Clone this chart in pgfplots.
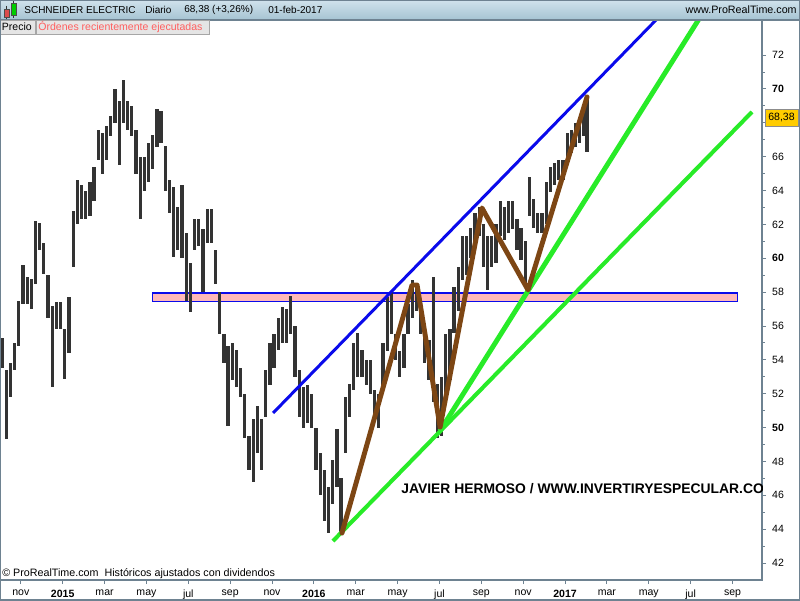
\documentclass[border=0pt]{standalone}
\usepackage{pgfplots}
\pgfplotsset{compat=1.18}
\usepackage{pgfplotstable}
\usepackage{fontspec}
\setmainfont{Liberation Sans}

\definecolor{bar}{RGB}{51,51,51}
\definecolor{frame}{RGB}{110,130,145}
\definecolor{blueL}{RGB}{10,10,235}
\definecolor{greenL}{RGB}{40,235,40}
\definecolor{brownL}{RGB}{125,70,20}
\definecolor{pinkF}{RGB}{255,185,185}
\definecolor{hdrtop}{RGB}{208,226,236}
\definecolor{hdrbot}{RGB}{165,195,210}
\definecolor{tabred}{RGB}{255,95,95}
\definecolor{gold}{RGB}{255,204,0}

% weekly-ish high/low, x = months since jan 2015
\pgfplotstableread{
m lo hi
-2.9 53.5 55.3
-2.7 49.3 53.4
-2.5 51.8 53.8
-2.3 53.4 55.0
-2.1 54.8 57.5
-1.9 57.3 59.6
-1.7 57.3 58.9
-1.5 57.0 58.8
-1.3 58.5 62.2
-1.1 60.5 62.1
-0.9 59.1 60.9
-0.7 56.5 59.0
-0.5 52.4 57.2
-0.3 55.8 57.4
-0.1 55.8 57.4
0.1 52.9 55.8
0.3 54.4 57.7
0.5 59.5 62.8
0.7 62.0 64.6
0.9 62.3 64.3
1.1 62.3 64.0
1.3 62.5 64.5
1.5 63.4 65.4
1.7 65.8 67.6
1.9 65.0 67.4
2.1 65.8 67.8
2.3 67.2 68.4
2.5 68.0 70.0
2.7 65.5 69.3
2.9 68.0 70.5
3.1 67.6 69.3
3.3 67.2 69.0
3.5 65.0 67.6
3.7 62.3 66.0
3.9 64.0 66.0
4.1 64.5 66.8
4.3 65.3 67.3
4.5 66.6 68.8
4.7 66.8 68.7
4.9 64.0 66.6
5.1 62.7 64.6
5.3 60.1 64.2
5.5 60.5 63.0
5.7 60.0 64.3
5.9 57.5 61.5
6.1 56.8 59.7
6.3 60.5 62.3
6.5 60.7 62.3
6.7 58.0 61.7
6.9 60.9 62.9
7.1 60.9 62.9
7.3 58.5 60.5
7.5 55.5 58.0
7.7 53.8 55.5
7.9 50.1 54.8
8.1 52.8 55.0
8.3 52.4 54.6
8.5 51.8 53.5
8.7 49.4 52.0
8.9 47.5 49.5
9.1 46.8 50.5
9.3 48.5 51.3
9.5 47.5 50.5
9.7 50.6 53.4
9.9 52.5 55.0
10.1 53.5 55.5
10.3 54.6 56.5
10.5 55.0 57.1
10.7 55.0 57.0
10.9 55.5 57.8
11.1 53.0 56.0
11.3 50.6 53.4
11.5 50.0 52.4
11.7 50.3 52.5
11.9 50.0 52.0
12.1 47.5 50.0
12.3 46.0 48.5
12.5 44.5 47.5
12.7 43.8 46.5
12.9 45.5 48.1
13.1 46.5 49.9
13.3 43.8 47.0
13.5 48.5 51.8
13.7 50.6 52.6
13.9 52.2 55.0
14.1 53.0 55.6
14.3 53.0 54.6
14.5 52.5 54.0
14.7 52.0 54.0
14.9 50.5 52.2
15.1 50.0 52.0
15.3 52.2 55.0
15.5 54.5 57.7
15.7 55.5 58.0
15.9 54.0 55.5
16.1 53.0 54.5
16.3 53.5 55.5
16.5 55.5 57.3
16.7 56.5 58.7
16.9 56.9 58.5
17.1 55.5 57.1
17.3 53.8 56.0
17.5 52.8 55.2
17.7 51.5 58.9
17.9 49.4 52.6
18.1 49.5 53.0
18.3 51.5 55.5
18.5 52.8 55.8
18.7 55.6 58.3
18.9 56.9 59.5
19.1 58.7 61.3
19.3 59.0 61.3
19.5 60.0 61.8
19.7 60.7 62.7
19.9 61.3 63.0
20.1 59.5 62.0
20.3 58.1 61.3
20.5 59.5 61.3
20.7 59.7 62.0
20.9 61.3 63.4
21.1 61.1 63.0
21.3 61.5 63.4
21.5 61.7 63.4
21.7 60.5 62.3
21.9 59.9 61.8
22.1 58.3 61.0
22.3 62.5 64.8
22.5 61.8 63.5
22.7 61.5 62.7
22.9 61.5 62.7
23.1 62.0 64.5
23.3 63.9 65.4
23.5 64.3 65.6
23.7 64.6 65.8
23.9 64.6 65.8
24.1 65.8 67.4
24.3 66.2 67.6
24.5 66.6 68.0
24.7 66.8 67.8
24.9 67.2 68.9
25.05 66.3 69.5
}\prices

\begin{document}
\begin{tikzpicture}
\begin{axis}[
    name=ch, at={(0,0)}, anchor=south west,
    width=15.24cm, height=11.2cm, scale only axis,
    xmin=-2.996, xmax=33.41, ymin=41.0, ymax=74.07,
    axis line style={draw=frame, line width=0.6pt},
    xtick={-2,0,...,32},
    xticklabels={nov,\textbf{2015},mar,may,jul,sep,nov,\textbf{2016},mar,may,jul,sep,nov,\textbf{2017},mar,may,jul,sep},
    ytick={42,44,...,72},
    yticklabels={42,44,46,48,\textbf{50},52,54,56,58,\textbf{60},62,64,66,{},\textbf{70},72},
    minor y tick num=1,
    xtick pos=bottom, ytick pos=right, yticklabel pos=right,
    tick align=outside, major tick length=0.08cm, minor tick length=0.05cm,
    tick style={draw=frame, line width=0.5pt},
    ticklabel style={font=\fontsize{6}{7}\selectfont, text=black},
    /pgf/number format/assume math mode=true,
    clip=true,
  ]
% support zone
\addplot[fill=pinkF, draw=blueL, line width=0.6pt] coordinates {(4.27,57.42) (32.22,57.42) (32.22,57.95) (4.27,57.95) (4.27,57.42)};
% price bars (high-low)
\addplot[draw=none, mark=none,
    error bars/.cd, y dir=both, y explicit, error mark=none,
    error bar style={draw=bar, line width=1.85pt}]
    table[x=m, y expr=(\thisrow{lo}+\thisrow{hi})/2, y error expr=(\thisrow{hi}-\thisrow{lo})/2] {\prices};
% trend lines
\addplot[blueL, line width=1.7pt] coordinates {(10.05,50.86) (28.44,74.19)};
\addplot[greenL, line width=2.3pt] coordinates {(12.91,43.30) (32.93,68.64)};
\addplot[greenL, line width=2.8pt] coordinates {(18.02,49.80) (30.43,74.19)};
\addplot[brownL, line width=2.8pt, line join=round, line cap=round] coordinates {(13.34,43.77) (16.69,58.42) (16.93,58.42) (18.03,50.03) (20.03,62.97) (22.23,58.13) (25.05,69.53)};
\begin{scope}
\clip (rel axis cs:0,0) rectangle (rel axis cs:1,1);
\node[anchor=west, font=\bfseries\fontsize{7.9}{9}\selectfont, inner sep=0pt] at (axis cs:16.16,46.37) {JAVIER HERMOSO / WWW.INVERTIRYESPECULAR.CO};
\end{scope}
\node[anchor=west, font=\fontsize{6.1}{7}\selectfont, inner sep=0pt] at (axis cs:-2.9,41.35) {© ProRealTime.com\ \ Históricos ajustados con dividendos};
\end{axis}
% header bar
\fill[top color=hdrtop, bottom color=hdrbot] (0,11.2) rectangle (16,11.6);
\draw[frame, line width=0.6pt] (0,11.2) -- (16,11.2);
\draw[black!80, line width=0.4pt] (0.13,11.48) -- (0.13,11.22);
\filldraw[fill=red!80!black!70, draw=black!70, line width=0.3pt] (0.08,11.42) rectangle (0.18,11.26);
\draw[black!80, line width=0.4pt] (0.27,11.58) -- (0.27,11.24);
\filldraw[fill=green!80!black, draw=black!70, line width=0.3pt] (0.22,11.54) rectangle (0.32,11.30);
\begin{scope}[every node/.style={anchor=west, inner sep=0pt, font=\fontsize{5.7}{7}\selectfont}]
\node at (0.48,11.40) {SCHNEIDER ELECTRIC};
\node at (2.90,11.40) {Diario};
\node at (3.68,11.40) {68,38 (+3,26\%)};
\node at (5.36,11.40) {01-feb-2017};
\end{scope}
\node[anchor=east, inner sep=0pt, font=\fontsize{6.1}{7}\selectfont] at (15.94,11.40) {www.ProRealTime.com};
% tabs
\filldraw[fill=black!10, draw=black!35, line width=0.4pt] (0,11.2) rectangle (0.70,10.92);
\node[anchor=west, inner sep=0pt, font=\fontsize{6}{7}\selectfont] at (0.03,11.06) {Precio};
\filldraw[fill=black!10, draw=black!35, line width=0.4pt] (0.72,11.2) rectangle (4.18,10.92);
\node[anchor=west, inner sep=0pt, font=\fontsize{6}{7}\selectfont, text=tabred] at (0.76,11.06) {Órdenes recientemente ejecutadas};
% last price label
\filldraw[fill=gold, draw=black!45, line width=0.4pt] (15.30,9.08) rectangle (15.96,9.42);
\node[inner sep=0pt, font=\fontsize{6}{7}\selectfont] at (15.63,9.25) {68,38};
% outer frame
\draw[frame, line width=0.6pt] (0,-0.4) rectangle (16,11.6);
\pgfresetboundingbox
\path[use as bounding box] (0,-0.4) rectangle (16,11.6);
\end{tikzpicture}
\end{document}
